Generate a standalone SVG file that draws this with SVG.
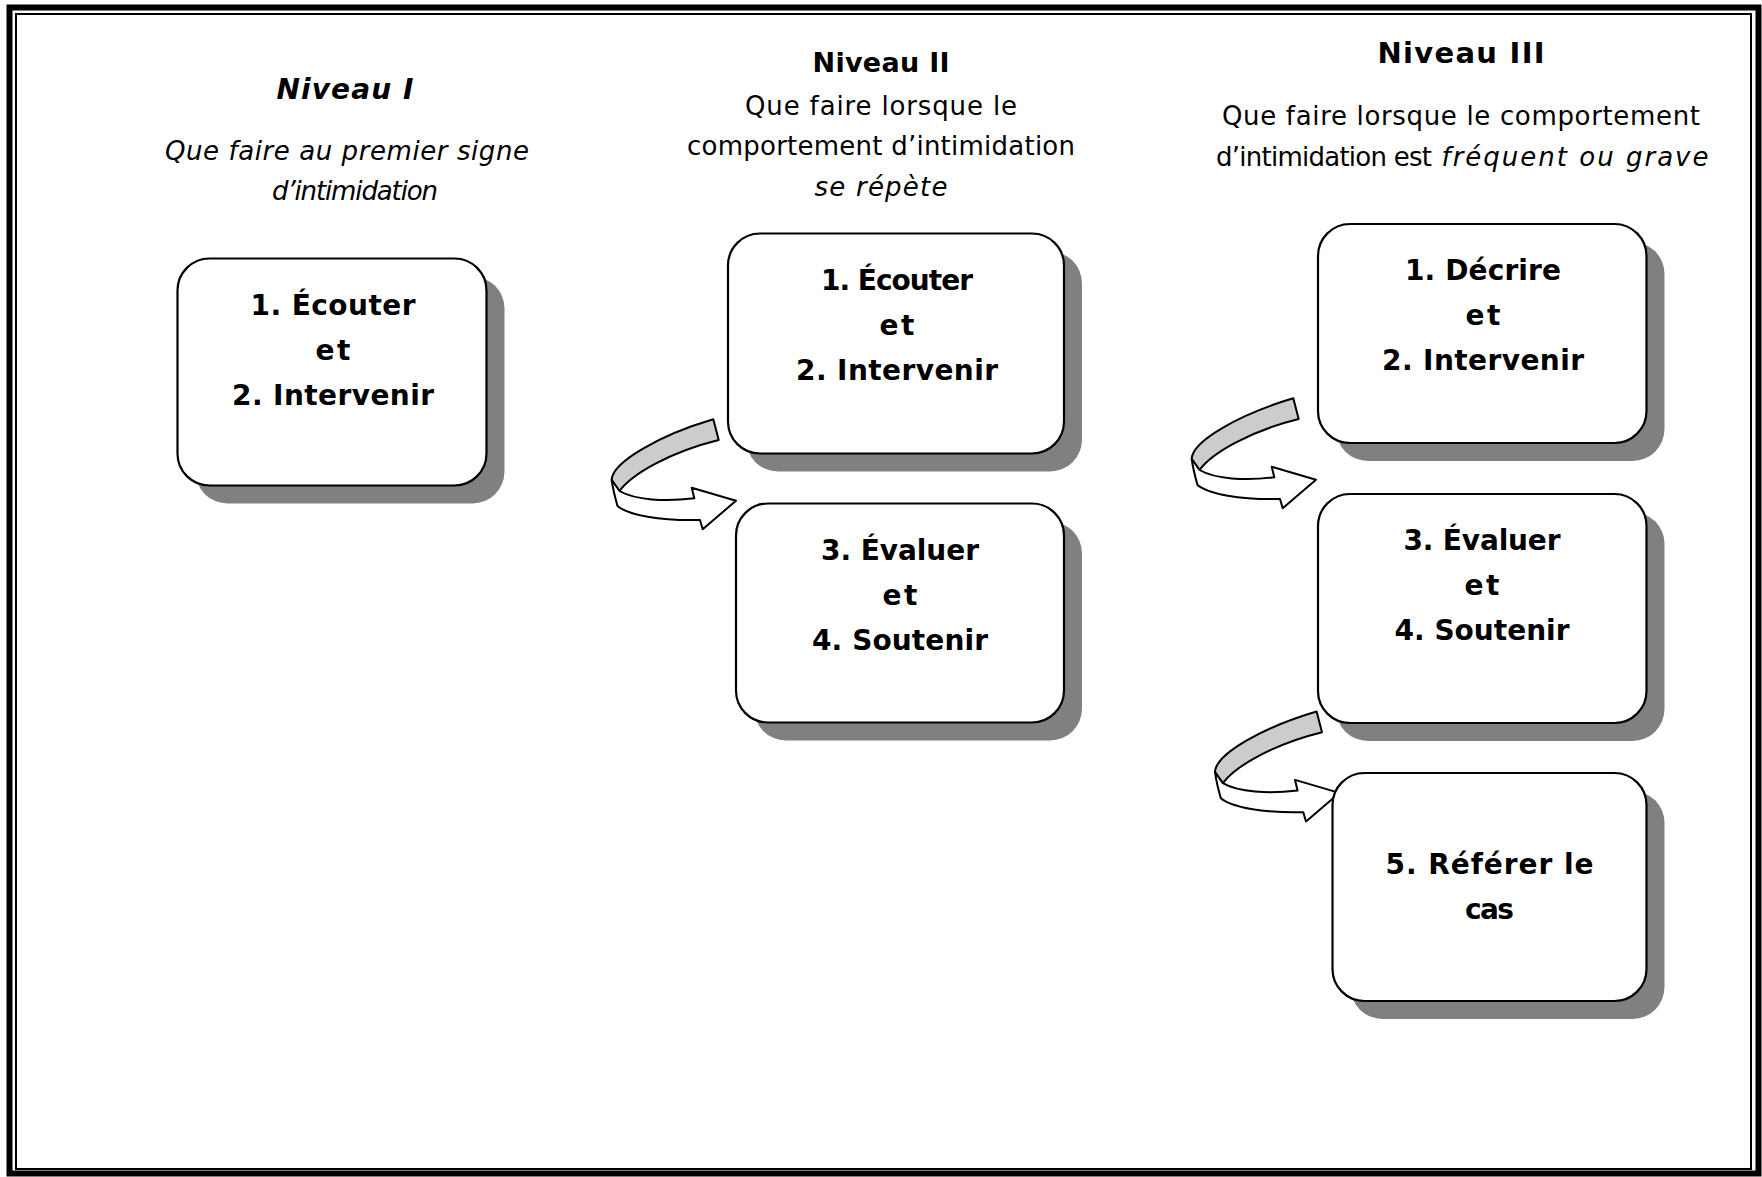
<svg xmlns="http://www.w3.org/2000/svg" xmlns:xlink="http://www.w3.org/1999/xlink" width="1762" height="1177" viewBox="0 0 1762 1177">
<style>
.bg{fill:#ffffff}
.frameOuter{fill:none;stroke:#000;stroke-width:6}
.frameInner{fill:none;stroke:#000;stroke-width:2}
.shadow{fill:#808080}
.box{fill:#ffffff;stroke:#000;stroke-width:2.2}
.t{font-family:"DejaVu Sans","Liberation Sans",sans-serif;fill:#000;text-anchor:middle}
.bx{font-size:28px;font-weight:bold}
.hb{font-size:27px;font-weight:bold}
.hb3{font-size:29px;font-weight:bold}
.hbi{font-size:28px;font-weight:bold;font-style:italic}
.hr{font-size:26px}
.hi{font-size:26px;font-style:italic}
.arrBack{fill:#cccccc;stroke:#000;stroke-width:2;stroke-linejoin:round}
.arrFront{fill:#ffffff;stroke:#000;stroke-width:2;stroke-linejoin:round}
</style>
<defs>
<g id="curvedArrow">
<path class="arrBack" d="M713.3,419.3 C660,435 612,462 611.7,480 L619.5,491 C632,474 670,452 718.7,440 Z"/>
<path class="arrFront" d="M611.7,480 C613,490 615.5,499 617.5,506 C628,515 660,521 700,520 L702.7,529.3 L736,500.7 L691.7,487.7 L694.3,498.3 C665,502 635,500 619.5,491 Z"/>
</g>
</defs>
<rect class="bg" x="0" y="0" width="1762" height="1177"/>
<g id="frame">
<rect class="frameOuter" x="9.5" y="7.5" width="1749" height="1166"/>
<rect class="frameInner" x="16" y="14" width="1735" height="1155"/>
</g>
<g id="headers">
<text class="t hbi" x="345" y="99" textLength="137">Niveau I</text>
<text class="t hi" x="347" y="160" textLength="364">Que faire au premier signe</text>
<text class="t hi" x="355" y="200" textLength="166">d’intimidation</text>
<text class="t hb" x="881" y="72" textLength="137">Niveau II</text>
<text class="t hr" x="881" y="115" textLength="272">Que faire lorsque le</text>
<text class="t hr" x="881" y="155" textLength="388">comportement d’intimidation</text>
<text class="t hi" x="881" y="196" textLength="133">se répète</text>
<text class="t hb3" x="1461" y="63" textLength="167">Niveau III</text>
<text class="t hr" x="1461" y="125" textLength="478">Que faire lorsque le comportement</text>
<text class="t hr" x="1324" y="166" textLength="216">d’intimidation est</text>
<text class="t hi" x="1575" y="166" textLength="267">fréquent ou grave</text>
</g>
<g id="connectors">
<use xlink:href="#curvedArrow" href="#curvedArrow"/>
<use xlink:href="#curvedArrow" href="#curvedArrow" transform="translate(580,-21)"/>
<use xlink:href="#curvedArrow" href="#curvedArrow" transform="translate(603.3,292.2)"/>
</g>
<g id="n1">
<rect class="shadow" x="195.5" y="276.5" width="309" height="227" rx="32"/>
<rect class="box" x="177.5" y="258.5" width="309" height="227" rx="32"/>
<text class="t bx" x="333" y="315" textLength="165">1. Écouter</text>
<text class="t bx" x="333" y="360" textLength="35">et</text>
<text class="t bx" x="333" y="405" textLength="202">2. Intervenir</text>
</g>
<g id="n2a">
<rect class="shadow" x="746" y="251.5" width="336" height="220" rx="32"/>
<rect class="box" x="728" y="233.5" width="336" height="220" rx="32"/>
<text class="t bx" x="897" y="290" textLength="152">1. Écouter</text>
<text class="t bx" x="897" y="335" textLength="35">et</text>
<text class="t bx" x="897" y="380" textLength="202">2. Intervenir</text>
</g>
<g id="n2b">
<rect class="shadow" x="754" y="521.5" width="328" height="219" rx="32"/>
<rect class="box" x="736" y="503.5" width="328" height="219" rx="32"/>
<text class="t bx" x="900" y="560" textLength="158">3. Évaluer</text>
<text class="t bx" x="900" y="605" textLength="35">et</text>
<text class="t bx" x="900" y="650" textLength="176">4. Soutenir</text>
</g>
<g id="n3a">
<rect class="shadow" x="1336" y="242" width="328.5" height="219" rx="32"/>
<rect class="box" x="1318" y="224" width="328.5" height="219" rx="32"/>
<text class="t bx" x="1483" y="280" textLength="156">1. Décrire</text>
<text class="t bx" x="1483" y="325" textLength="35">et</text>
<text class="t bx" x="1483" y="370" textLength="202">2. Intervenir</text>
</g>
<g id="n3b">
<rect class="shadow" x="1336" y="512" width="328.5" height="229" rx="32"/>
<rect class="box" x="1318" y="494" width="328.5" height="229" rx="32"/>
<text class="t bx" x="1482" y="550" textLength="157">3. Évaluer</text>
<text class="t bx" x="1482" y="595" textLength="35">et</text>
<text class="t bx" x="1482" y="640" textLength="175">4. Soutenir</text>
</g>
<g id="n3c">
<rect class="shadow" x="1350.5" y="791" width="314" height="228" rx="32"/>
<rect class="box" x="1332.5" y="773" width="314" height="228" rx="32"/>
<text class="t bx" x="1489.5" y="874" textLength="208">5. Référer le</text>
<text class="t bx" x="1489.5" y="919" textLength="49">cas</text>
</g>
</svg>
